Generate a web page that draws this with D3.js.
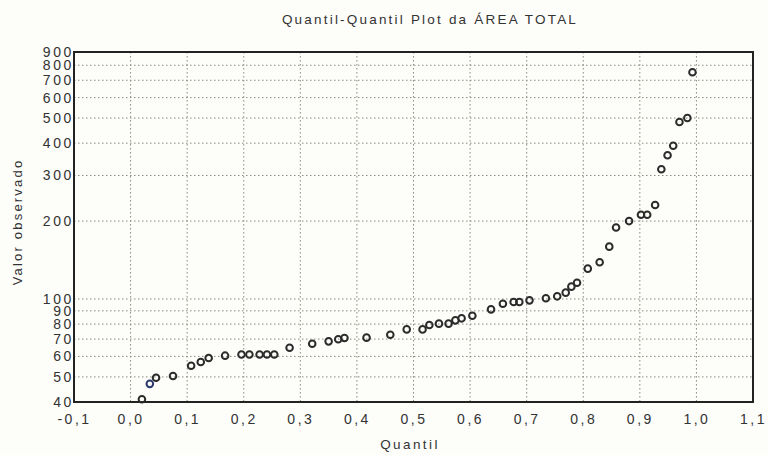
<!DOCTYPE html>
<html>
<head>
<meta charset="utf-8">
<script src="https://cdn.jsdelivr.net/npm/d3@7"></script>
<style>
body { margin: 0; background: #fdfdfa; }
text { font-family: "Liberation Sans", Arial, sans-serif; fill: #333; }
</style>
</head>
<body>
<script>
// quantil (x) e valor observado (y)
const quantil = [0.020, 0.034, 0.045, 0.075, 0.107, 0.124, 0.138, 0.167, 0.196, 0.210,
  0.228, 0.241, 0.254, 0.281, 0.321, 0.350, 0.367, 0.378, 0.417, 0.459,
  0.488, 0.516, 0.528, 0.545, 0.562, 0.574, 0.585, 0.604, 0.637, 0.658,
  0.677, 0.687, 0.705, 0.734, 0.754, 0.769, 0.779, 0.789, 0.808, 0.829,
  0.846, 0.858, 0.881, 0.902, 0.913, 0.927, 0.938, 0.949, 0.959, 0.970,
  0.984, 0.993];
const valor = [41, 47, 49.6, 50.4, 55.2, 57.1, 59.2, 60.4, 61, 61,
  61, 61, 61, 64.8, 67.2, 68.6, 69.9, 70.7, 70.9, 72.8,
  76.3, 76.3, 79.4, 80.3, 80.3, 82.7, 84.2, 86.2, 91.2, 95.9,
  97.4, 97.4, 98.8, 100.6, 102.4, 105.8, 111.6, 115.6, 131, 138.6,
  159.3, 189, 200, 211.7, 211.7, 230.7, 317, 359, 391, 483,
  500, 752];
const xTicks = [-0.1, 0, 0.1, 0.2, 0.3, 0.4, 0.5, 0.6, 0.7, 0.8, 0.9, 1.0, 1.1];
const yTicks = [40, 50, 60, 70, 80, 90, 100, 200, 300, 400, 500, 600, 700, 800, 900];

const W = 768, H = 455;
const m = {left: 74, right: 15, top: 52, bottom: 53};

const svg = d3.select(document.body).append('svg')
  .attr('width', W).attr('height', H);

const x = d3.scaleLinear().domain([-0.1, 1.1]).range([m.left, W - m.right]);
const y = d3.scaleLog().domain([40, 900]).range([H - m.bottom, m.top]);

const fmt = d => d3.format('.1f')(d).replace('.', ',').replace('−', '-');

// grade pontilhada
svg.append('g').selectAll('line')
  .data(xTicks.slice(1, -1))
  .join('line')
  .attr('x1', d => x(d)).attr('x2', d => x(d))
  .attr('y1', m.top).attr('y2', H - m.bottom)
  .attr('stroke', '#8a8a80').attr('stroke-width', 1)
  .attr('stroke-dasharray', '1.5,2.5');

svg.append('g').selectAll('line')
  .data(yTicks.slice(1, -1))
  .join('line')
  .attr('x1', m.left).attr('x2', W - m.right)
  .attr('y1', d => y(d)).attr('y2', d => y(d))
  .attr('stroke', '#8a8a80').attr('stroke-width', 1)
  .attr('stroke-dasharray', '1.5,2.5');

// eixos
svg.append('g')
  .attr('transform', `translate(0,${H - m.bottom})`)
  .call(d3.axisBottom(x).tickValues(xTicks).tickFormat(fmt).tickSize(0).tickPadding(12))
  .call(g => g.select('.domain').remove())
  .selectAll('text')
  .attr('font-size', 14).attr('letter-spacing', 2.5).attr('fill', '#333');

svg.append('g')
  .attr('transform', `translate(${m.left},0)`)
  .call(d3.axisLeft(y).tickValues(yTicks).tickFormat(d3.format('d')).tickSize(0).tickPadding(0))
  .call(g => g.select('.domain').remove())
  .selectAll('text')
  .attr('font-size', 14).attr('letter-spacing', 2.6).attr('fill', '#333');

svg.append('rect')
  .attr('x', m.left).attr('y', m.top)
  .attr('width', W - m.right - m.left).attr('height', H - m.bottom - m.top)
  .attr('fill', 'none').attr('stroke', '#222').attr('stroke-width', 2);

// pontos
svg.append('g').selectAll('circle')
  .data(quantil)
  .join('circle')
  .attr('cx', d => x(d))
  .attr('cy', (d, i) => y(valor[i]))
  .attr('r', 3.3)
  .attr('fill', 'none')
  .attr('stroke', (d, i) => i === 1 ? '#2a3a6a' : '#2b2b2b')
  .attr('stroke-width', 2);

// titulos
svg.append('text')
  .attr('x', 430).attr('y', 24)
  .attr('text-anchor', 'middle').attr('font-size', 13.5).attr('letter-spacing', 2.2)
  .text('Quantil-Quantil Plot da ÁREA TOTAL');

svg.append('text')
  .attr('x', 410).attr('y', 449)
  .attr('text-anchor', 'middle').attr('font-size', 13.5).attr('letter-spacing', 2.4)
  .text('Quantil');

svg.append('text')
  .attr('transform', 'translate(22,222) rotate(-90)')
  .attr('text-anchor', 'middle').attr('font-size', 13).attr('letter-spacing', 2.2)
  .text('Valor observado');
</script>
</body>
</html>
